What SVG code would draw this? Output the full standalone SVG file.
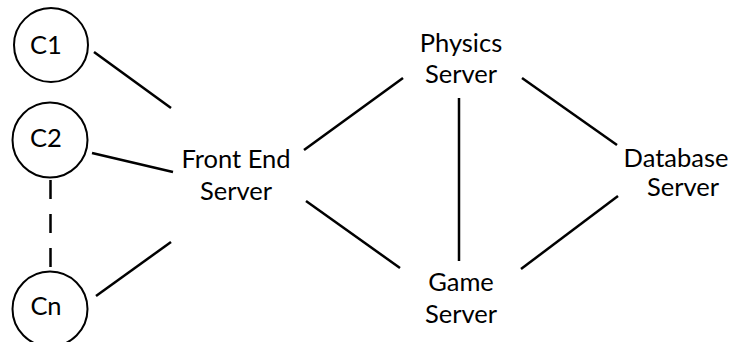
<svg xmlns="http://www.w3.org/2000/svg" width="734" height="342" viewBox="0 0 734 342">
  <style>
    .bg { fill: #ffffff; }
    .client { fill: #ffffff; stroke: #000000; stroke-width: 2; }
    .label { font-family: Lato, "Liberation Sans", Arial, sans-serif; font-size: 25.5px; fill: #000000; text-anchor: middle; }
    .link { stroke: #000000; stroke-width: 2.5; fill: none; }
    .dashed { stroke-dasharray: 19 15; }
  </style>
  <rect class="bg" x="0" y="0" width="734" height="342"/>

  <g id="connectors">
    <line class="link" x1="94" y1="52" x2="171" y2="108"/>
    <line class="link" x1="92" y1="153" x2="173" y2="172"/>
    <line class="link" x1="96" y1="296" x2="171" y2="242"/>
    <line class="link dashed" x1="50.5" y1="180" x2="50.5" y2="267"/>
    <line class="link" x1="304" y1="150" x2="403" y2="78"/>
    <line class="link" x1="306" y1="201" x2="400" y2="268"/>
    <line class="link" x1="459" y1="98" x2="459" y2="261"/>
    <line class="link" x1="522" y1="78" x2="617" y2="145"/>
    <line class="link" x1="521" y1="269" x2="618" y2="196"/>
  </g>

  <g id="client-c1">
    <circle class="client" cx="51" cy="45" r="37"/>
    <text class="label" x="46" y="54">C1</text>
  </g>
  <g id="client-c2">
    <circle class="client" cx="50" cy="140" r="37.5"/>
    <text class="label" x="46" y="147">C2</text>
  </g>
  <g id="client-cn">
    <circle class="client" cx="50" cy="309" r="37.5"/>
    <text class="label" x="46" y="315">Cn</text>
  </g>

  <g id="front-end-server">
    <text class="label" x="236" y="168">Front End</text>
    <text class="label" x="236" y="200">Server</text>
  </g>
  <g id="physics-server">
    <text class="label" x="461" y="52">Physics</text>
    <text class="label" x="461" y="83">Server</text>
  </g>
  <g id="game-server">
    <text class="label" x="461" y="291">Game</text>
    <text class="label" x="461" y="323">Server</text>
  </g>
  <g id="database-server">
    <text class="label" x="676" y="167">Database</text>
    <text class="label" x="683" y="196">Server</text>
  </g>
</svg>
